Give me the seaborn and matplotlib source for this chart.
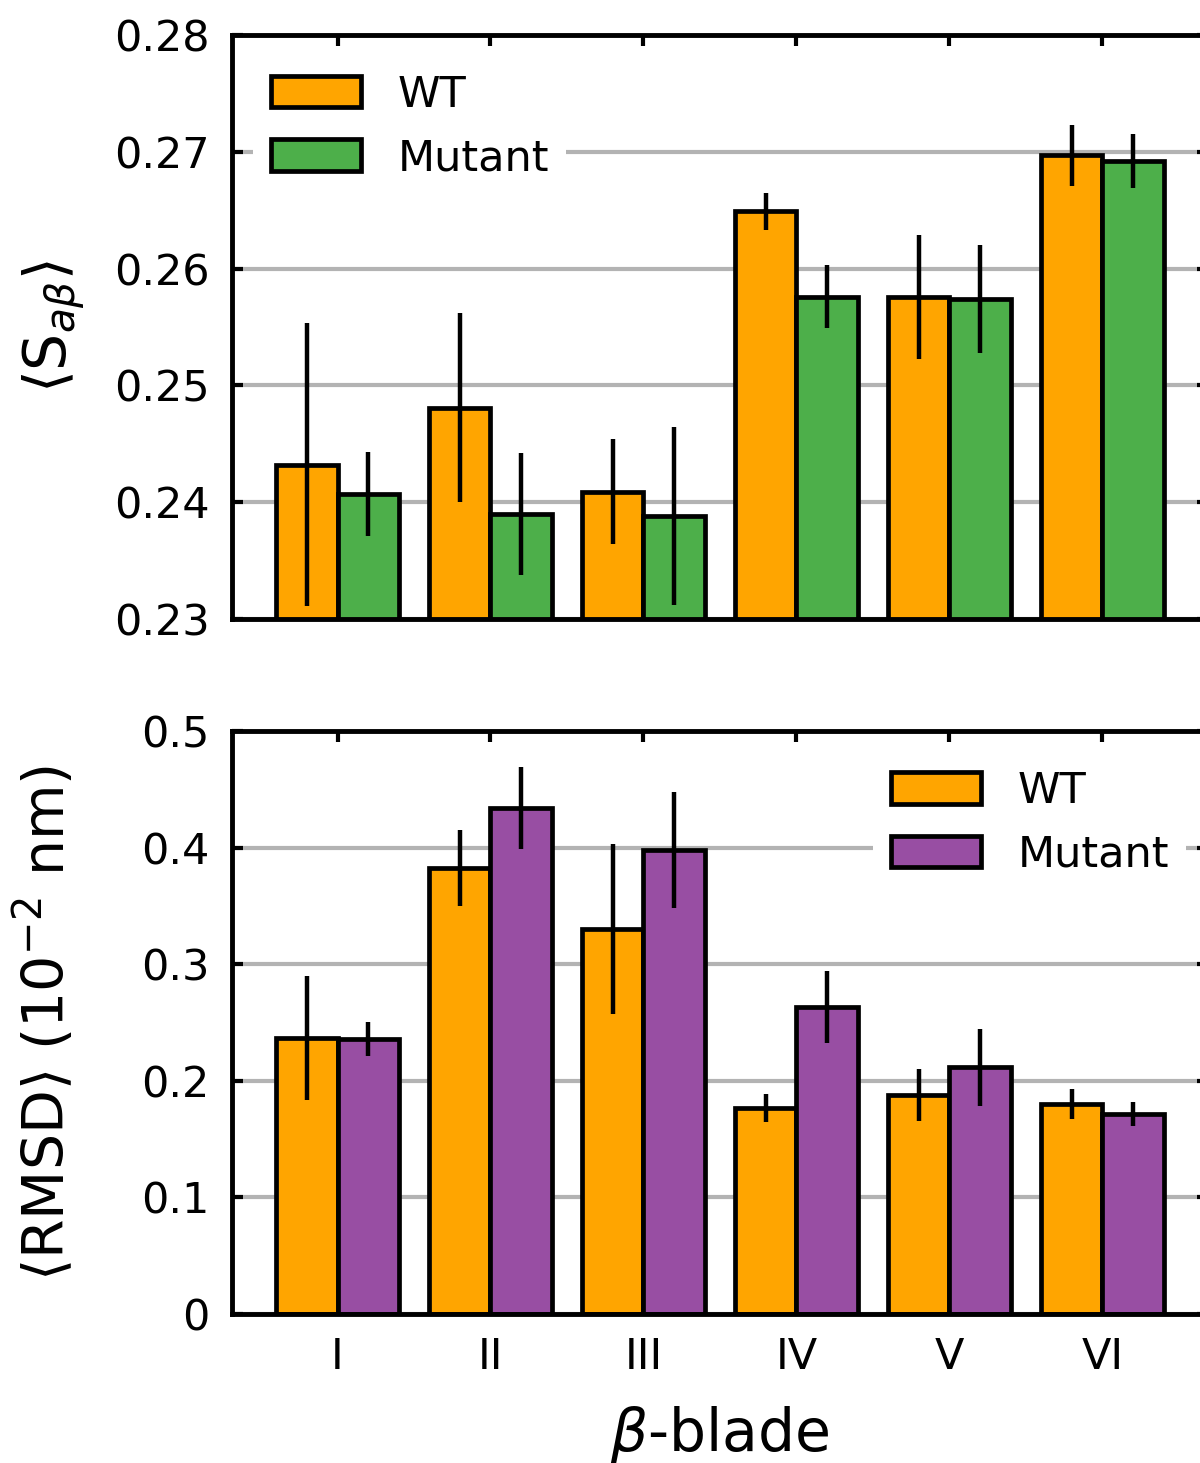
import matplotlib
matplotlib.use("Agg")
import matplotlib.pyplot as plt
import seaborn as sns
import pandas as pd
from matplotlib.patches import Patch

blades = ["I", "II", "III", "IV", "V", "VI"]
groups = ["WT", "Mutant"]

s_wt = [0.2432, 0.2481, 0.2409, 0.2649, 0.2576, 0.2697]
s_wt_err = [0.0121, 0.0081, 0.0045, 0.0016, 0.0053, 0.0026]
s_mut = [0.2407, 0.2390, 0.2388, 0.2576, 0.2574, 0.2692]
s_mut_err = [0.0036, 0.0052, 0.0076, 0.0027, 0.0046, 0.0023]

r_wt = [0.2367, 0.3825, 0.3300, 0.1767, 0.1878, 0.1800]
r_wt_err = [0.0530, 0.0325, 0.0730, 0.0120, 0.0222, 0.0128]
r_mut = [0.2358, 0.4340, 0.3980, 0.2633, 0.2118, 0.1715]
r_mut_err = [0.0146, 0.0350, 0.0500, 0.0305, 0.0330, 0.0100]

orange = "#FFA500"
green = "#4DAF4A"
purple = "#984EA3"

sns.set_theme(style="ticks")
plt.rcParams['font.family'] = ['DejaVu Sans']
plt.rcParams['mathtext.fontset'] = 'dejavusans'
plt.rcParams['text.color'] = 'black'
plt.rcParams['axes.labelcolor'] = 'black'
plt.rcParams['xtick.color'] = 'black'
plt.rcParams['ytick.color'] = 'black'

fig = plt.figure(figsize=(12, 14.63), dpi=100)
ax1 = fig.add_axes([0.1933, 0.5769, 0.8133, 0.3992])
ax2 = fig.add_axes([0.1933, 0.1018, 0.8133, 0.3985])


def make_df(wt, wte, mut, mute):
    rows = []
    for b, v, e in zip(blades, wt, wte):
        rows.append({"blade": b, "group": "WT", "value": v, "err": e})
    for b, v, e in zip(blades, mut, mute):
        rows.append({"blade": b, "group": "Mutant", "value": v, "err": e})
    return pd.DataFrame(rows)


def draw(ax, df, colors):
    sns.barplot(data=df, x="blade", y="value", hue="group", order=blades,
                hue_order=groups, palette=colors, saturation=1, width=0.8,
                edgecolor="black", linewidth=3.4, errorbar=None,
                legend=False, ax=ax, zorder=2)
    for k, g in enumerate(groups):
        sub = df[df["group"] == g].set_index("blade").loc[blades]
        cont = ax.containers[k]
        xs = [p.get_x() + p.get_width() / 2 for p in cont]
        ys = [p.get_height() for p in cont]
        ax.errorbar(xs, ys, yerr=sub["err"].values, fmt='none',
                    ecolor='black', elinewidth=3.2, capsize=0, zorder=3)
    ax.set_xlim(-0.69, 5.69)
    ax.set_axisbelow(True)
    ax.yaxis.grid(True, color='#b3b3b3', linewidth=3)
    ax.xaxis.grid(False)
    for sp in ax.spines.values():
        sp.set_linewidth(3.5)
        sp.set_color('black')
        sp.set_visible(True)
    ax.tick_params(direction='in', top=True, right=True, length=8, width=3,
                   labelsize=31, pad=16, colors='black')
    ax.set_xlabel("")
    handles = [Patch(facecolor=colors[g], edgecolor='black', linewidth=3.4,
                     label=g) for g in groups]
    return handles


df1 = make_df(s_wt, s_wt_err, s_mut, s_mut_err)
df2 = make_df(r_wt, r_wt_err, r_mut, r_mut_err)

h1 = draw(ax1, df1, {"WT": orange, "Mutant": green})
h2 = draw(ax2, df2, {"WT": orange, "Mutant": purple})

ax1.set_ylim(0.23, 0.28)
ax1.set_yticks([0.23, 0.24, 0.25, 0.26, 0.27, 0.28])
ax1.set_yticklabels(["0.23", "0.24", "0.25", "0.26", "0.27", "0.28"])
ax1.set_xticklabels([])

ax2.set_ylim(0, 0.5)
ax2.set_yticks([0, 0.1, 0.2, 0.3, 0.4, 0.5])
ax2.set_yticklabels(["0", "0.1", "0.2", "0.3", "0.4", "0.5"])

ax1.set_ylabel(r'$\langle \mathrm{S}_{a\beta} \rangle$', fontsize=42)
ax2.set_ylabel(r'$\langle$RMSD$\rangle$ (10$^{-2}$ nm)', fontsize=41)
ax1.yaxis.set_label_coords(-0.147, 0.5)
ax2.yaxis.set_label_coords(-0.159, 0.5)
ax2.set_xlabel(r'$\beta$-blade', fontsize=42)
ax2.xaxis.set_label_coords(0.5, -0.154)

for ax, h, loc in [(ax1, h1, 'upper left'), (ax2, h2, 'upper right')]:
    leg = ax.legend(handles=h, loc=loc, fontsize=31, frameon=True,
                    fancybox=False, framealpha=1, facecolor='white',
                    handlelength=2.1, handleheight=0.75, handletextpad=0.85,
                    labelspacing=0.5)
    leg.get_frame().set_linewidth(0)

fig.savefig("out.png", dpi=100)
